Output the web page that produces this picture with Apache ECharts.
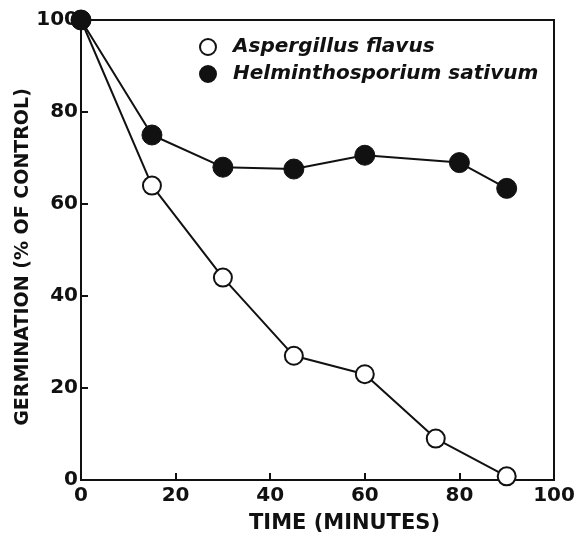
<!DOCTYPE html>
<html>
<head>
<meta charset="utf-8">
<script src="https://cdn.jsdelivr.net/npm/echarts@6/dist/echarts.min.js"></script>
<style>
  html, body { margin: 0; padding: 0; background: #fff; }
  #main { width: 580px; height: 539px; }
</style>
</head>
<body>
<div id="main"></div>
<script>
// time in minutes
const timeAF = [0, 15, 30, 45, 60, 75, 90];
const aspergillus = [100, 64, 44, 27, 23, 9, 0.8];
const timeHS = [0, 15, 30, 45, 60, 80, 90];
const helminthosporium = [100, 75, 68, 67.6, 70.6, 69, 63.4];
const seriesNames = ['Aspergillus flavus', 'Helminthosporium sativum'];
const axisTicks = [0, 20, 40, 60, 80, 100];

const ink = '#111';
const font = 'DejaVu Sans';

function pairs(xs, ys) {
  return xs.map((x, i) => [x, ys[i]]);
}

const chart = echarts.init(document.getElementById('main'));

const option = {
  animation: false,
  backgroundColor: '#fff',
  grid: {
    left: 81, right: 26, top: 20, bottom: 57,
    show: true, borderColor: ink, borderWidth: 2
  },
  legend: {
    orient: 'vertical',
    left: 194, top: 32,
    itemWidth: 16, itemHeight: 16, itemGap: 7,
    icon: 'circle',
    data: seriesNames,
    textStyle: {
      fontFamily: font, fontSize: 20, fontStyle: 'italic', fontWeight: 'bold',
      color: ink, padding: [0, 0, 0, 12]
    }
  },
  xAxis: {
    type: 'value', min: 0, max: 100, interval: 20,
    name: 'TIME (MINUTES)', nameLocation: 'middle', nameGap: 33,
    nameMoveOverlap: false,
    nameTextStyle: { fontFamily: font, fontSize: 21, fontWeight: 'bold', color: ink, padding: [0, 0, 0, 54] },
    axisLine: { show: true, lineStyle: { color: ink, width: 2 } },
    axisTick: { show: true, inside: true, length: 7, lineStyle: { color: ink, width: 2 } },
    axisLabel: {
      fontFamily: font, fontSize: 20, fontWeight: 'bold', color: ink, margin: 6,
      formatter: v => axisTicks.includes(v) ? String(v) : ''
    },
    splitLine: { show: false }
  },
  yAxis: {
    type: 'value', min: 0, max: 100, interval: 20,
    name: 'GERMINATION (% OF CONTROL)', nameLocation: 'middle', nameGap: 48, nameRotate: 90,
    nameMoveOverlap: false,
    nameTextStyle: { fontFamily: font, fontSize: 19, fontWeight: 'bold', color: ink, padding: [0, 14, 0, 0] },
    axisLine: { show: true, lineStyle: { color: ink, width: 2 } },
    axisTick: { show: true, inside: true, length: 7, lineStyle: { color: ink, width: 2 } },
    axisLabel: {
      fontFamily: font, fontSize: 20, fontWeight: 'bold', color: ink, margin: 3,
      formatter: v => axisTicks.includes(v) ? String(v) : ''
    },
    splitLine: { show: false }
  },
  series: [
    {
      name: seriesNames[0],
      type: 'line',
      data: pairs(timeAF, aspergillus),
      symbol: 'circle', symbolSize: 18,
      lineStyle: { color: ink, width: 2 },
      itemStyle: { color: '#fff', borderColor: ink, borderWidth: 2 },
      z: 2
    },
    {
      name: seriesNames[1],
      type: 'line',
      data: pairs(timeHS, helminthosporium),
      symbol: 'circle', symbolSize: 20,
      lineStyle: { color: ink, width: 2 },
      itemStyle: { color: ink, borderColor: ink, borderWidth: 1 },
      z: 3
    }
  ]
};

chart.setOption(option);
</script>
</body>
</html>
